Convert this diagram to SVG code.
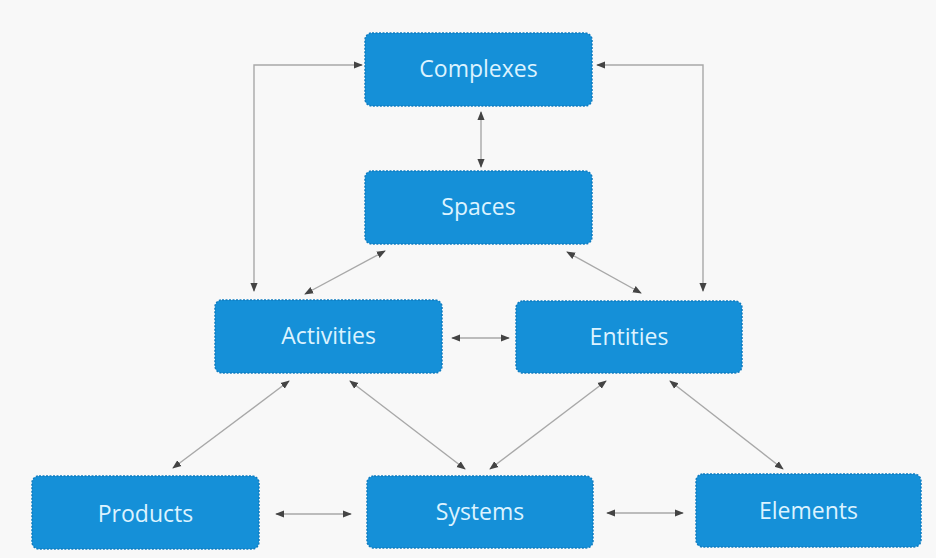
<svg xmlns="http://www.w3.org/2000/svg" width="936" height="558" viewBox="0 0 936 558">
<defs>
<style>
.node rect{fill:#1590d8;stroke:#0f7cc0;stroke-width:1.5;stroke-dasharray:2 1.5}
.node text{fill:#dcf3ff;font-family:"Open Sans","Liberation Sans",sans-serif;font-size:23px;text-anchor:middle;dominant-baseline:central}
.conn path{fill:none;stroke:#a8a8a8;stroke-width:1.4;marker-start:url(#ah);marker-end:url(#ah)}
</style>
<marker id="ah" viewBox="0 0 10 10" refX="9" refY="5" markerWidth="9" markerHeight="9" markerUnits="userSpaceOnUse" orient="auto-start-reverse">
<path d="M0,1 L10,5 L0,9 z" fill="#444"/>
</marker>
</defs>
<rect width="936" height="558" fill="#f8f8f8"/>
<g id="connectors" class="conn">
<path d="M362,65 H254 V291"/>
<path d="M597,65 H703 V291"/>
<path d="M481,112 V167"/>
<path d="M385,251 L305,294"/>
<path d="M567,252 L641,293"/>
<path d="M452,338 L509,338"/>
<path d="M289,381 L173,468"/>
<path d="M350,381 L465,469"/>
<path d="M606,381 L490,469"/>
<path d="M670,381 L783,469"/>
<path d="M276,514 L351,514"/>
<path d="M607,513 L683,513"/>
</g>
<g id="complexes" class="node"><rect x="365" y="33" width="227" height="73" rx="7"/><text x="478.5" y="68">Complexes</text></g>
<g id="spaces" class="node"><rect x="365" y="171" width="227" height="73" rx="7"/><text x="478.5" y="206">Spaces</text></g>
<g id="activities" class="node"><rect x="215" y="300" width="227" height="73" rx="7"/><text x="328.5" y="335">Activities</text></g>
<g id="entities" class="node"><rect x="516" y="301" width="226" height="72" rx="7"/><text x="629" y="336">Entities</text></g>
<g id="products" class="node"><rect x="32" y="476" width="227" height="73" rx="7"/><text x="145.5" y="513">Products</text></g>
<g id="systems" class="node"><rect x="367" y="476" width="226" height="72" rx="7"/><text x="480" y="511">Systems</text></g>
<g id="elements" class="node"><rect x="696" y="474" width="225" height="73" rx="7"/><text x="808.5" y="510">Elements</text></g>
</svg>
